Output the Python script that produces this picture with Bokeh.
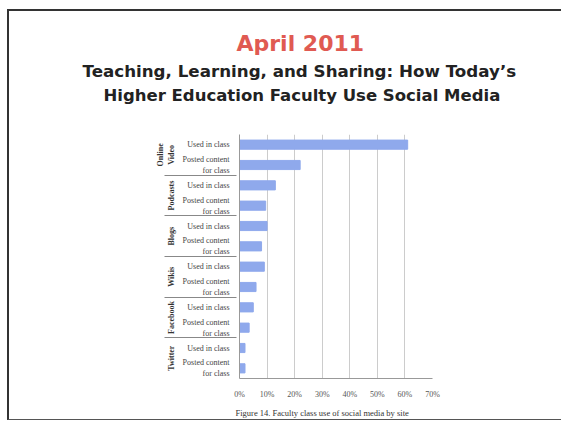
from bokeh.plotting import figure
from bokeh.models import FactorRange, FixedTicker, Title
from bokeh.embed import file_html
from bokeh.resources import INLINE

groups = ["Online\nVideo", "Podcasts", "Blogs", "Wikis", "Facebook", "Twitter"]
subgroups = ["Used in class", "Posted content\nfor class"]
used_in_class = [61, 13, 10, 9, 5, 2]
posted_content = [22, 9.5, 8, 6, 3.5, 2]
tick_values = [0, 10, 20, 30, 40, 50, 60, 70]
tick_labels = ["0%", "10%", "20%", "30%", "40%", "50%", "60%", "70%"]

factors = []
values = []
for g, u, pc in zip(groups, used_in_class, posted_content):
    factors.append((g, subgroups[0])); values.append(u)
    factors.append((g, subgroups[1])); values.append(pc)

W, H = 554, 411
FL, FT, FB = 230, 123, 367  # frame left / top / bottom in canvas pixels
p = figure(width=W, height=H, output_backend="svg", toolbar_location=None,
           y_range=FactorRange(*reversed(factors), range_padding=0, group_padding=0),
           x_range=(0, 70), min_border_left=FL, min_border_right=131,
           min_border_top=FT, min_border_bottom=H - FB)

p.hbar(y=factors, right=values, height=0.45, color="#8fa9ec")

p.xaxis.ticker = FixedTicker(ticks=tick_values)
p.xaxis.major_label_overrides = {v: l for v, l in zip(tick_values, tick_labels)}
p.xaxis.major_label_text_font = "Liberation Serif"
p.xaxis.major_label_text_font_size = "8px"
p.xaxis.major_label_text_color = "#555555"
p.xaxis.major_tick_line_color = None
p.xaxis.minor_tick_line_color = None
p.xaxis.axis_line_color = "#999999"
p.xaxis.major_label_standoff = 5

p.yaxis.major_label_text_font = "Liberation Serif"
p.yaxis.major_label_text_font_size = "8px"
p.yaxis.major_label_text_color = "#444444"
p.yaxis.major_label_standoff = 4
p.yaxis.group_text_font = "Liberation Serif"
p.yaxis.group_text_font_size = "8px"
p.yaxis.group_text_font_style = "bold"
p.yaxis.group_text_color = "#333333"
p.yaxis.group_label_orientation = "parallel"
p.yaxis.major_tick_line_color = None
p.yaxis.axis_line_color = "#999999"
p.yaxis.separator_line_color = "#888888"
p.yaxis.separator_line_width = 1

p.ygrid.grid_line_color = None
p.xgrid.grid_line_color = "#cccccc"
p.outline_line_color = None

def add_title(txt, place, offset, size, color, style="bold", font="DejaVu Sans", standoff=0):
    p.add_layout(Title(text=txt, align="left", offset=offset, standoff=standoff,
                       text_font=font, text_font_size=size,
                       text_font_style=style, text_color=color), place)

# nearest to the frame first; the first one is only a blank spacer
add_title(" ", "above", 0, "1px", "#ffffff", standoff=27)
add_title("Higher Education Faculty Use Social Media", "above", -136, "16.5px", "#222222")
add_title("Teaching, Learning, and Sharing: How Today\u2019s", "above", -157, "16.7px", "#222222", standoff=6)
add_title("April 2011", "above", -3, "22px", "#e05a52")
add_title("Figure 14. Faculty class use of social media by site", "below", -4, "8.5px", "#333333",
          style="normal", font="Liberation Serif", standoff=8)

p.styles = {"margin-left": "7px", "margin-top": "9px",
            "border-left": "2px solid #333333", "border-top": "2px solid #333333",
            "border-bottom": "1px solid #555555"}

open("out.html", "w").write(file_html(p, INLINE))
